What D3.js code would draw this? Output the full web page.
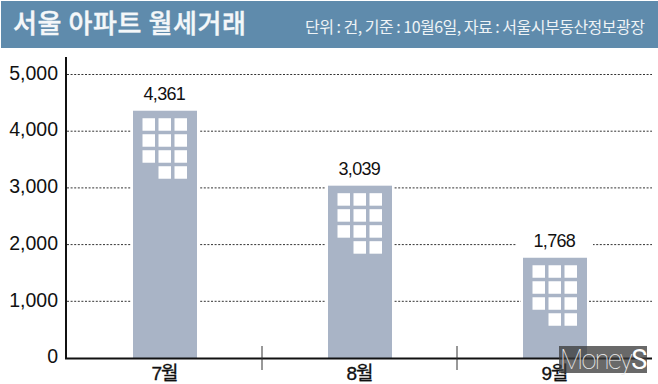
<!DOCTYPE html>
<html><head><meta charset="utf-8">
<script src="https://cdnjs.cloudflare.com/ajax/libs/d3/7.8.5/d3.min.js"></script>
<style>html,body{margin:0;padding:0;background:#fff}svg{display:block}</style></head>
<body><svg id="c" width="658" height="384"></svg>
<script>
const title = "서울 아파트 월세거래";
const note = "단위 : 건, 기준 : 10월6일, 자료 : 서울시부동산정보광장";
const months = ["7월","8월","9월"];
const values = [4361,3039,1768];
const yTicks = [0,1000,2000,3000,4000,5000];
const windowRows = [[0,1,2],[0,1,2],[0,1,2],[1,2]];

const W=658,H=384;
const svg=d3.select("#c");
const ar='Arial,"Liberation Sans","Noto Sans CJK KR",sans-serif';
const ko='"Noto Sans CJK KR",sans-serif';
const y=d3.scaleLinear().domain([0,5000]).range([358,74.5]);
const x=d3.scaleBand().domain(months).range([67.5,652.5]).paddingInner(0).paddingOuter(0);
const barW=64;

svg.append("rect").attr("x",1).attr("y",1).attr("width",W-1).attr("height",47).attr("fill","#5f8bac");
svg.append("text").attr("x",13).attr("y",33).attr("font-family",ko).attr("font-weight",500)
  .attr("font-size",26).attr("fill","#f4f7f9").attr("stroke","#f4f7f9").attr("stroke-width",.4)
  .attr("textLength",233).attr("lengthAdjust","spacing").text(title);
svg.append("text").attr("x",305).attr("y",33).attr("font-family",ko).attr("font-weight",400)
  .attr("font-size",16).attr("fill","#eef3f6").attr("textLength",340).attr("lengthAdjust","spacing").text(note);

// grid
svg.append("g").selectAll("line").data(yTicks.filter(d=>d>0)).join("line")
  .attr("x1",67).attr("x2",652).attr("y1",d=>y(d)).attr("y2",d=>y(d))
  .attr("stroke","#333").attr("stroke-width",1).attr("stroke-dasharray","2 1.6");

// y axis labels
const yAxis=d3.axisLeft(y).tickValues(yTicks).tickSize(0).tickPadding(8).tickFormat(d3.format(","));
const gy=svg.append("g").attr("transform","translate(66,-1.5)").call(yAxis);
gy.select(".domain").remove();
gy.selectAll("text").attr("font-family",ar).attr("font-size",19.5).attr("fill","#111");

// bars
const g=svg.append("g").selectAll("g").data(months.map((m,i)=>({m,v:values[i]}))).join("g")
  .attr("transform",d=>`translate(${x(d.m)+x.bandwidth()/2-barW/2},0)`);
g.append("rect").attr("x",-2).attr("width",barW+4).attr("y",d=>y(d.v)).attr("height",d=>358-y(d.v)).attr("fill","#fff");
g.append("rect").attr("width",barW).attr("y",d=>y(d.v)).attr("height",d=>358-y(d.v)).attr("fill","#a9b4c6");
g.each(function(d){
  const s=d3.select(this), top=y(d.v);
  windowRows.forEach((cols,r)=>cols.forEach(c=>{
    s.append("rect").attr("x",9.5+c*16).attr("y",top+7.5+r*16).attr("width",12.5).attr("height",12.5).attr("fill","#fff");
  }));
});
g.append("rect").attr("x",barW/2-38).attr("width",76).attr("y",d=>y(d.v)-27).attr("height",21).attr("fill","#fff");
g.append("text").attr("x",barW/2-.7).attr("y",d=>y(d.v)-10.5).attr("text-anchor","middle")
  .attr("font-family",ar).attr("font-size",18).attr("letter-spacing",-0.7).attr("fill","#111").text(d=>d3.format(",")(d.v));

// axes
svg.append("line").attr("x1",66).attr("x2",66).attr("y1",57).attr("y2",359).attr("stroke","#111").attr("stroke-width",2);
svg.append("line").attr("x1",65).attr("x2",652).attr("y1",358.5).attr("y2",358.5).attr("stroke","#111").attr("stroke-width",1.8);
svg.append("g").selectAll("line").data(months.slice(1)).join("line")
  .attr("x1",d=>x(d)-.5).attr("x2",d=>x(d)-.5).attr("y1",346).attr("y2",370).attr("stroke","#333").attr("stroke-width",1);
svg.append("g").selectAll("text").data(months).join("text")
  .attr("x",d=>x(d)+x.bandwidth()/2-.5).attr("y",380).attr("text-anchor","middle")
  .attr("font-family",ar).attr("font-size",19).attr("letter-spacing",-1).attr("fill","#111")
  .attr("stroke","#111").attr("stroke-width",.35).text(d=>d);

// watermark
svg.append("rect").attr("x",559).attr("y",346).attr("width",88).attr("height",27).attr("fill","#3a3a3a").attr("fill-opacity",.76);
const wm=svg.append("text").attr("x",560).attr("y",369).attr("font-family",'Roboto,Arial,sans-serif').attr("font-size",27).attr("fill","#eee").attr("letter-spacing",-1.6);
wm.append("tspan").attr("font-weight",100).text("Money");
wm.append("tspan").attr("font-weight",400).attr("fill","#fff").text("S");
</script></body></html>
